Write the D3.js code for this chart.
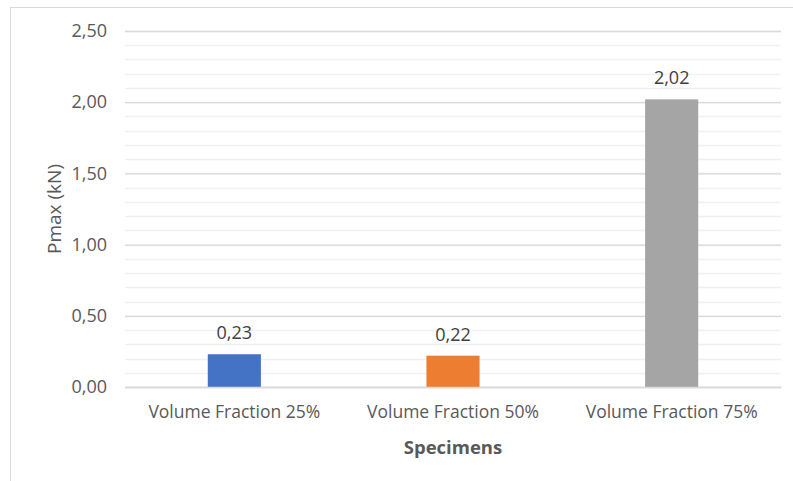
<!DOCTYPE html>
<html>
<head>
<meta charset="utf-8">
<script src="https://cdn.jsdelivr.net/npm/d3@7"></script>
<style>
  html, body { margin: 0; padding: 0; background: #fff; }
  svg { display: block; }
  svg text { font-family: "Open Sans", "Liberation Sans", sans-serif; }
</style>
</head>
<body>
<svg id="chart" width="793" height="481"></svg>
<script>
// Maximum load per specimen group
const categories = ["Volume Fraction 25%", "Volume Fraction 50%", "Volume Fraction 75%"];
const pmax = [0.23, 0.22, 2.02];
const barColors = ["#4472C4", "#ED7D31", "#A5A5A5"];
const majorTicks = [0, 0.5, 1.0, 1.5, 2.0, 2.5];
const minorTicks = d3.range(0, 2.5001, 0.1);

const svg = d3.select("#chart");
const fmt = v => d3.format(".2f")(v).replace(".", ",");
const FONT = '"Open Sans", "Liberation Sans", sans-serif';

// Chart frame
svg.append("rect")
  .attr("x", 10.5).attr("y", 7.5)
  .attr("width", 800).attr("height", 500)
  .attr("fill", "#fff").attr("stroke", "#d9d9d9");

const plot = { left: 125, right: 781, top: 31, bottom: 387 };

const x = d3.scaleBand().domain(categories)
  .range([plot.left, plot.right]).paddingInner(0.757).paddingOuter(0.3785);
const y = d3.scaleLinear().domain([0, 2.5]).range([plot.bottom, plot.top]);

// Minor gridlines
svg.append("g").selectAll("line").data(minorTicks).join("line")
  .attr("x1", plot.left).attr("x2", plot.right)
  .attr("y1", d => Math.round(y(d)) + 0.5).attr("y2", d => Math.round(y(d)) + 0.5)
  .attr("stroke", "#f0f0f0").attr("stroke-width", 1.5);

// Major gridlines and labels via axis
const yAxis = d3.axisLeft(y).tickValues(majorTicks).tickFormat(fmt)
  .tickSize(-(plot.right - plot.left)).tickPadding(18);
const gy = svg.append("g").attr("transform", `translate(${plot.left},0)`)
  .call(yAxis).attr("font-family", FONT);
gy.select(".domain").remove();
gy.selectAll(".tick line").attr("stroke", "#d9d9d9").attr("stroke-width", 1.3);
gy.selectAll(".tick text").attr("fill", "#595959").attr("font-size", 18);

// Bars
svg.append("g").selectAll("rect").data(categories).join("rect")
  .attr("x", d => x(d))
  .attr("width", x.bandwidth())
  .attr("y", (d, i) => y(pmax[i]))
  .attr("height", (d, i) => y(0) - y(pmax[i]))
  .attr("fill", (d, i) => barColors[i]);

// Value labels
svg.append("g").selectAll("text").data(categories).join("text")
  .attr("x", d => x(d) + x.bandwidth() / 2)
  .attr("y", (d, i) => y(pmax[i]) - 15)
  .attr("text-anchor", "middle")
  .attr("fill", "#404040").attr("font-size", 18)
  .text((d, i) => fmt(pmax[i]));

// Category axis
const xAxis = d3.axisBottom(x).tickSize(0).tickPadding(19);
const gx = svg.append("g").attr("transform", `translate(0,${plot.bottom})`)
  .call(xAxis).attr("font-family", FONT);
gx.select(".domain").attr("stroke", "#d9d9d9").attr("stroke-width", 1.3);
gx.selectAll(".tick text").attr("fill", "#595959").attr("font-size", 17.5);

// Axis titles
svg.append("text")
  .attr("x", (plot.left + plot.right) / 2).attr("y", 454)
  .attr("text-anchor", "middle")
  .attr("fill", "#595959").attr("font-size", 18.5).attr("font-weight", "bold")
  .text("Specimens");

svg.append("text")
  .attr("transform", `translate(61,${(plot.top + plot.bottom) / 2}) rotate(-90)`)
  .attr("text-anchor", "middle")
  .attr("fill", "#595959").attr("font-size", 19)
  .text("Pmax (kN)");
</script>
</body>
</html>
